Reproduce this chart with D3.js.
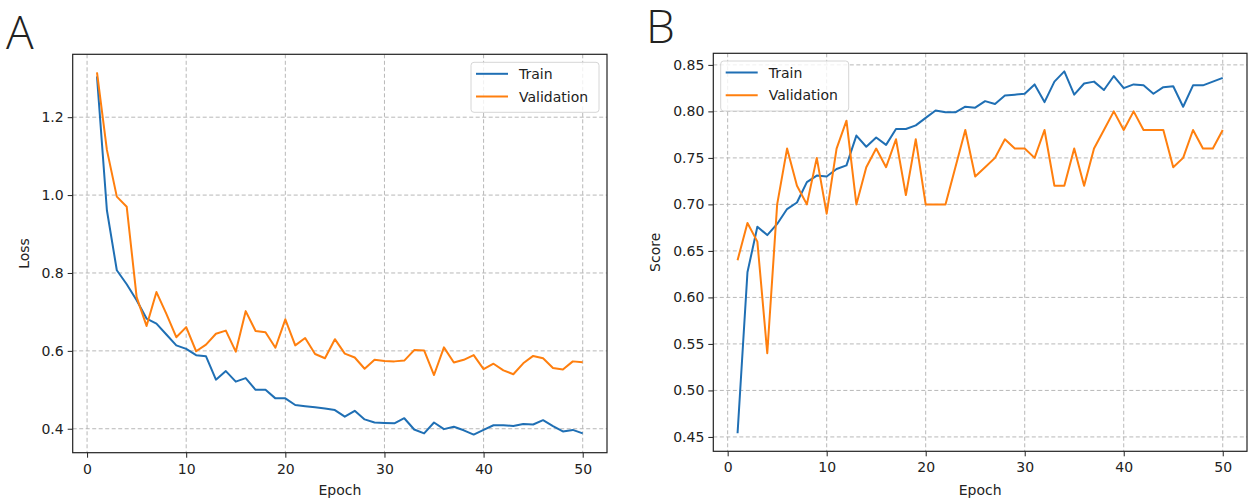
<!DOCTYPE html>
<html>
<head>
<meta charset="utf-8">
<script src="https://cdn.jsdelivr.net/npm/d3@7"></script>
<style>
  body { margin: 0; background: #fff; }
  svg { display: block; }
  text { font-family: "DejaVu Sans", sans-serif; fill: #222; }
</style>
</head>
<body>
<svg id="chart" width="1257" height="498"></svg>
<script>
// epochs 1..50
const epochs = d3.range(1, 51);

// panel A: loss
const lossTrain = [
  1.305, 0.961, 0.807, 0.771, 0.730, 0.683, 0.670, 0.642, 0.614, 0.605,
  0.589, 0.586, 0.526, 0.548, 0.521, 0.530, 0.500, 0.500, 0.478, 0.478,
  0.461, 0.458, 0.455, 0.452, 0.448, 0.431, 0.446, 0.424, 0.416, 0.415,
  0.414, 0.427, 0.398, 0.388, 0.416, 0.399, 0.405, 0.396, 0.385, 0.397,
  0.409, 0.409, 0.407, 0.412, 0.411, 0.422, 0.407, 0.393, 0.397, 0.388
];
const lossVal = [
  1.315, 1.116, 0.996, 0.970, 0.738, 0.664, 0.751, 0.695, 0.635, 0.661,
  0.599, 0.616, 0.644, 0.652, 0.598, 0.702, 0.651, 0.648, 0.608, 0.681,
  0.614, 0.633, 0.592, 0.581, 0.630, 0.593, 0.583, 0.554, 0.577, 0.574,
  0.573, 0.575, 0.602, 0.601, 0.538, 0.609, 0.570, 0.577, 0.589, 0.553,
  0.567, 0.550, 0.540, 0.568, 0.587, 0.581, 0.556, 0.552, 0.573, 0.571
];

// panel B: score
const scoreTrain = [
  0.454, 0.627, 0.676, 0.667, 0.679, 0.695, 0.702, 0.724, 0.731, 0.730,
  0.738, 0.742, 0.774, 0.762, 0.772, 0.764, 0.781, 0.781, 0.785, 0.793,
  0.801, 0.799, 0.799, 0.805, 0.804, 0.811, 0.808, 0.817, 0.818, 0.819,
  0.829, 0.810, 0.832, 0.843, 0.818, 0.830, 0.832, 0.823, 0.838, 0.825,
  0.829, 0.828, 0.819, 0.826, 0.827, 0.805, 0.828, 0.828, 0.832, 0.836
];
const scoreVal = [
  0.64, 0.68, 0.66, 0.54, 0.70, 0.76, 0.72, 0.70, 0.75, 0.69,
  0.76, 0.79, 0.70, 0.74, 0.76, 0.74, 0.77, 0.71, 0.77, 0.70,
  0.70, 0.70, 0.74, 0.78, 0.73, 0.74, 0.75, 0.77, 0.76, 0.76,
  0.75, 0.78, 0.72, 0.72, 0.76, 0.72, 0.76, 0.78, 0.80, 0.78,
  0.80, 0.78, 0.78, 0.78, 0.74, 0.75, 0.78, 0.76, 0.76, 0.78
];

const xTicks = [0, 10, 20, 30, 40, 50];
const lossTicks = [0.4, 0.6, 0.8, 1.0, 1.2];
const scoreTicks = [0.45, 0.50, 0.55, 0.60, 0.65, 0.70, 0.75, 0.80, 0.85];
const seriesNames = ['Train', 'Validation'];
const colors = ['#1f6fb4', '#ff7f0e'];

const svg = d3.select('#chart');

// matplotlib style 5% margins
const pad = (lo, hi) => { const m = (hi - lo) * 0.05; return [lo - m, hi + m]; };

const drawPanel = (opt) => {
  const { left, right, top, bottom } = opt;
  const g = svg.append('g');

  const x = d3.scaleLinear()
    .domain(pad(d3.min(epochs), d3.max(epochs)))
    .range([left, right]);

  const allY = opt.series.flat();
  const y = d3.scaleLinear()
    .domain(pad(d3.min(allY), d3.max(allY)))
    .range([bottom, top]);

  // grid
  const grid = g.append('g')
    .attr('stroke', '#b0b0b0')
    .attr('stroke-width', 0.9)
    .attr('stroke-dasharray', '4,2.5');
  grid.selectAll('.gx').data(xTicks).enter().append('line')
    .attr('x1', d => x(d)).attr('x2', d => x(d))
    .attr('y1', top).attr('y2', bottom);
  grid.selectAll('.gy').data(opt.yTicks).enter().append('line')
    .attr('x1', left).attr('x2', right)
    .attr('y1', d => y(d)).attr('y2', d => y(d));

  // lines
  const line = (vals) => d3.line()
    .x((d, i) => x(epochs[i]))
    .y(d => y(d))(vals);

  g.selectAll('.series')
    .data(opt.series)
    .enter()
    .append('path')
    .attr('d', d => line(d))
    .attr('fill', 'none')
    .attr('stroke', (d, i) => colors[i])
    .attr('stroke-width', 2)
    .attr('stroke-linejoin', 'round');

  // axes
  const xAxis = g.append('g')
    .attr('transform', 'translate(0,' + bottom + ')')
    .call(d3.axisBottom(x).tickValues(xTicks).tickSize(5).tickPadding(6));
  const yAxis = g.append('g')
    .attr('transform', 'translate(' + left + ',0)')
    .call(d3.axisLeft(y).tickValues(opt.yTicks).tickFormat(d3.format(opt.fmt)).tickSize(5).tickPadding(4));

  [xAxis, yAxis].forEach(a => {
    a.select('.domain').remove();
    a.selectAll('.tick line').attr('stroke', '#222').attr('stroke-width', 1);
    a.selectAll('.tick text')
      .style('font-family', '"DejaVu Sans", sans-serif')
      .style('font-size', '14px')
      .attr('fill', '#222');
  });

  // frame
  g.append('rect')
    .attr('x', left).attr('y', top)
    .attr('width', right - left).attr('height', bottom - top)
    .attr('fill', 'none')
    .attr('stroke', '#222')
    .attr('stroke-width', 1.2);

  // axis labels
  g.append('text')
    .attr('x', (left + right) / 2)
    .attr('y', 495)
    .attr('text-anchor', 'middle')
    .style('font-size', '14px')
    .text('Epoch');
  g.append('text')
    .attr('transform', 'translate(' + opt.yLabelX + ',' + (top + bottom) / 2 + ') rotate(-90)')
    .attr('text-anchor', 'middle')
    .style('font-size', '14px')
    .text(opt.yLabel);

  // legend
  const lg = g.append('g').attr('transform', 'translate(' + opt.legendX + ',' + opt.legendY + ')');
  lg.append('rect')
    .attr('width', 128).attr('height', 50)
    .attr('rx', 3)
    .attr('fill', 'rgba(255,255,255,0.8)')
    .attr('stroke', '#d6d6d6')
    .attr('stroke-width', 1);
  const row = lg.selectAll('.row')
    .data(seriesNames)
    .enter()
    .append('g')
    .attr('transform', (d, i) => 'translate(0,' + (11.5 + i * 22.7) + ')');
  row.append('line')
    .attr('x1', 5).attr('x2', 37)
    .attr('stroke', (d, i) => colors[i])
    .attr('stroke-width', 2);
  row.append('text')
    .attr('x', 48)
    .attr('dy', '0.36em')
    .style('font-size', '14px')
    .text(d => d);

  // panel letter
  g.append('text')
    .attr('x', opt.letterX)
    .attr('y', opt.letterY)
    .style('font-family', '"Open Sans", sans-serif')
    .style('font-weight', 300)
    .style('font-size', '46px')
    .attr('fill', '#111')
    .text(opt.letter);
};

drawPanel({
  left: 72.7, right: 607, top: 54.3, bottom: 452.7,
  series: [lossTrain, lossVal],
  yTicks: lossTicks, fmt: '.1f',
  yLabel: 'Loss', yLabelX: 29,
  legendX: 471, legendY: 62.3,
  letter: 'A', letterX: 6, letterY: 49
});

drawPanel({
  left: 713.3, right: 1247, top: 53.3, bottom: 451.3,
  series: [scoreTrain, scoreVal],
  yTicks: scoreTicks, fmt: '.2f',
  yLabel: 'Score', yLabelX: 660,
  legendX: 720.7, legendY: 61,
  letter: 'B', letterX: 646, letterY: 43
});
</script>
</body>
</html>
